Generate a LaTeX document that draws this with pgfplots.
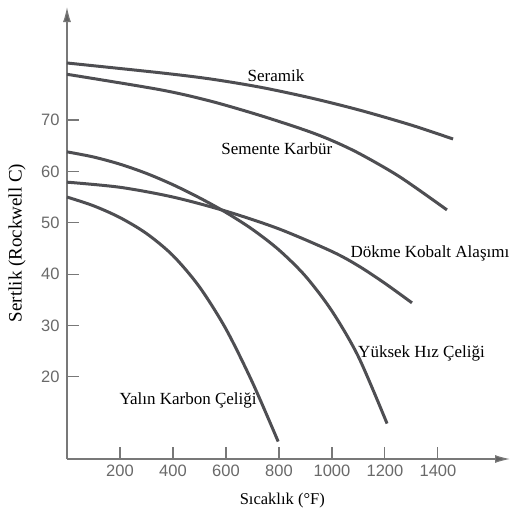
\documentclass[border=0pt]{standalone}
\usepackage{fontspec}
\setmainfont{Liberation Serif}
\newfontfamily\tickfont{Liberation Sans}
\usepackage{pgfplots}
\pgfplotsset{compat=1.18}
\usetikzlibrary{arrows.meta}
\definecolor{curve}{RGB}{78,78,82}
\definecolor{axisgray}{RGB}{120,120,120}
\definecolor{tickgray}{RGB}{105,105,105}
\begin{document}
\begin{tikzpicture}[x=1pt,y=1pt]
\useasboundingbox (0,0) rectangle (510,512);
\begin{axis}[
  at={(67pt,53pt)}, anchor=south west,
  scale only axis, width=443pt, height=452pt,
  xmin=0, xmax=1672, ymin=4, ymax=92,
  axis lines=left,
  axis line style={draw=axisgray, line width=1.2pt, -{Latex[length=15pt,width=8pt,fill=axisgray!80!black]}},
  xtick={200,400,...,1400}, ytick={20,30,...,70},
  tick align=inside, major tick length=12pt,
  tick style={draw=axisgray, line width=1.1pt},
  /pgf/number format/assume math mode=true,
  /pgf/number format/1000 sep={},
  ticklabel style={font=\tickfont\fontsize{16.5}{18}\selectfont, text=tickgray},
  xticklabel style={yshift=-2pt},
  yticklabel style={xshift=-4pt},
  xlabel={Sıcaklık (°F)},
  xlabel style={at={(axis description cs:0.486,-0.091)}, anchor=center, font=\fontsize{16.5}{18}\selectfont},
  ylabel={Sertlik (Rockwell C)},
  ylabel style={at={(axis description cs:-0.113,0.478)}, anchor=center, rotate=0, font=\fontsize{19}{20}\selectfont},
  clip=false,
]
% Seramik
\addplot[curve, line width=3pt, smooth] coordinates {(0,81.1) (351,79.2) (540,78.0) (728,76.4) (920,74.3) (1106,71.9) (1300,69.0) (1457,66.3)};
% Semente Karbur
\addplot[curve, line width=3pt, smooth] coordinates {(0,78.9) (351,75.9) (540,73.7) (728,70.9) (900,68.0) (1000,66.0) (1106,63.4) (1257,58.9) (1434,52.5)};
% Dokme Kobalt
\addplot[curve, line width=3pt, smooth] coordinates {(0,57.9) (200,56.9) (400,55.0) (600,52.25) (800,48.8) (1000,44.4) (1100,41.6) (1200,38.2) (1302,34.4)};
% Yuksek Hiz
\addplot[curve, line width=3pt, smooth] coordinates {(0,63.8) (100,62.8) (200,61.4) (300,59.6) (400,57.4) (500,54.85) (600,52.0) (700,48.7) (800,44.7) (900,39.6) (1000,32.8) (1100,23.9) (1208,10.9)};
% Yalin Karbon
\addplot[curve, line width=3pt, smooth] coordinates {(0,55.0) (100,53.3) (200,51.0) (300,47.9) (400,43.6) (500,37.5) (600,29.3) (700,18.9) (797,7.4)};
\begin{scope}[every node/.style={font=\fontsize{17}{18}\selectfont, anchor=base}]
\node at (axis cs:789,77.4) {Seramik};
\node at (axis cs:792,63.2) {Semente Karbür};
\node at (axis cs:1370,43.3) {Dökme Kobalt Alaşımı};
\node at (axis cs:1338,23.7) {Yüksek Hız Çeliği};
\node at (axis cs:457,14.6) {Yalın Karbon Çeliği};
\end{scope}
\end{axis}
\end{tikzpicture}
\end{document}
